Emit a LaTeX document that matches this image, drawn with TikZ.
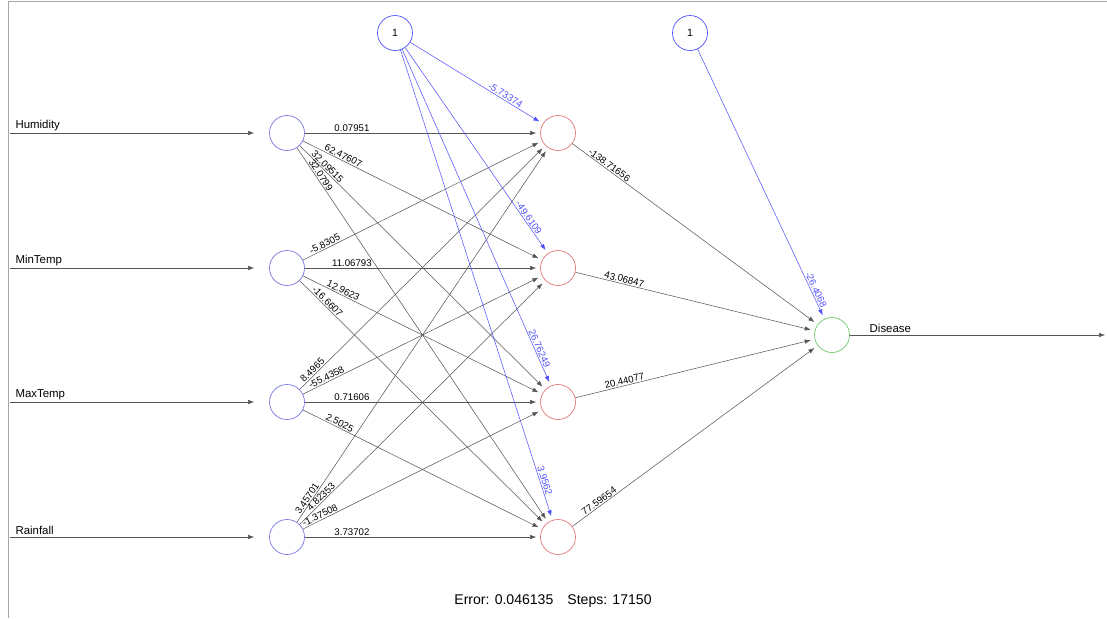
\documentclass[tikz,border=0pt]{standalone}
\usepackage{fontspec}
\setmainfont{Liberation Sans}
\usetikzlibrary{arrows.meta}
\definecolor{inblue}{RGB}{120,120,225}
\definecolor{hidred}{RGB}{225,120,120}
\definecolor{outgreen}{RGB}{110,200,110}
\definecolor{biasblue}{RGB}{80,80,250}
\definecolor{wiregray}{RGB}{85,85,85}

\begin{document}
\begin{tikzpicture}[x=0.2mm,y=-0.2mm,
  neuron/.style={circle,draw,minimum size=7mm,inner sep=0pt,font=\fontsize{6}{7}\selectfont},
  wire/.style={draw=wiregray,line width=0.3pt,-{Latex[length=1.2mm,width=0.9mm]},shorten >=0.8mm},
  biaswire/.style={wire,draw=biasblue},
  weight/.style={sloped,above,inner sep=0.6pt,font=\fontsize{5.5}{6}\selectfont}]
\useasboundingbox (0,0) rectangle (1107,618);
\draw[gray!70,line width=0.4pt] (8,618) -- (8,1) -- (1107,1);
\foreach \n/\y/\name in {1/133/Humidity,2/268/MinTemp,3/402/MaxTemp,4/537/Rainfall}{
  \node[neuron,draw=inblue] (i\n) at (287,\y) {};
  \node[neuron,draw=hidred] (h\n) at (558,\y) {};
  \coordinate (s\n) at (10,\y);
  \draw[wire,shorten >=3mm] (s\n) -- (i\n) node[pos=0,above right,xshift=2pt,inner sep=1pt,font=\fontsize{6.5}{7}\selectfont]{\name};
}
\node[neuron,draw=outgreen] (o) at (832,335) {};
\node[neuron,draw=biasblue] (b1) at (395,33) {1};
\node[neuron,draw=biasblue] (b2) at (690,33) {1};
\coordinate (t) at (1105,335);
\draw[wire,shorten >=0pt] (o) -- (t) node[pos=0.07,above right,inner sep=1pt,font=\fontsize{6.5}{7}\selectfont]{Disease};
\foreach \i/\j/\p/\w in {1/1/0.2/0.07951,1/2/0.16/62.47607,1/3/0.1/32.09515,1/4/0.08/32.0799,
    2/1/0.1/-5.8305,2/2/0.2/11.06793,2/3/0.16/12.9623,2/4/0.1/-16.6607,
    3/1/0.065/8.4965,3/2/0.107/-55.4358,3/3/0.2/0.71606,3/4/0.145/2.5025,
    4/1/0.056/3.45701,4/2/0.1/4.82353,4/3/0.08/-1.37508,4/4/0.2/3.73702}
  \draw[wire] (i\i) -- (h\j) node[weight,pos=\p]{\w};
\foreach \j/\p/\w in {1/0.14/-138.71656,2/0.2/43.06847,3/0.21/20.44077,4/0.12/77.59654}
  \draw[wire] (h\j) -- (o) node[weight,pos=\p]{\w};
\foreach \j/\p/\w in {1/0.7/-5.73374,2/0.84/-49.6109,3/0.895/26.76249,4/0.92/3.9562}
  \draw[biaswire] (b1) -- (h\j) node[weight,pos=\p,text=biasblue]{\w};
\draw[biaswire] (b2) -- (o) node[weight,pos=0.9,text=biasblue]{-26.4068};
\node[font=\fontsize{8}{9}\selectfont] (err) at (553,601) {Error: 0.046135\quad Steps: 17150};
\end{tikzpicture}
\end{document}
